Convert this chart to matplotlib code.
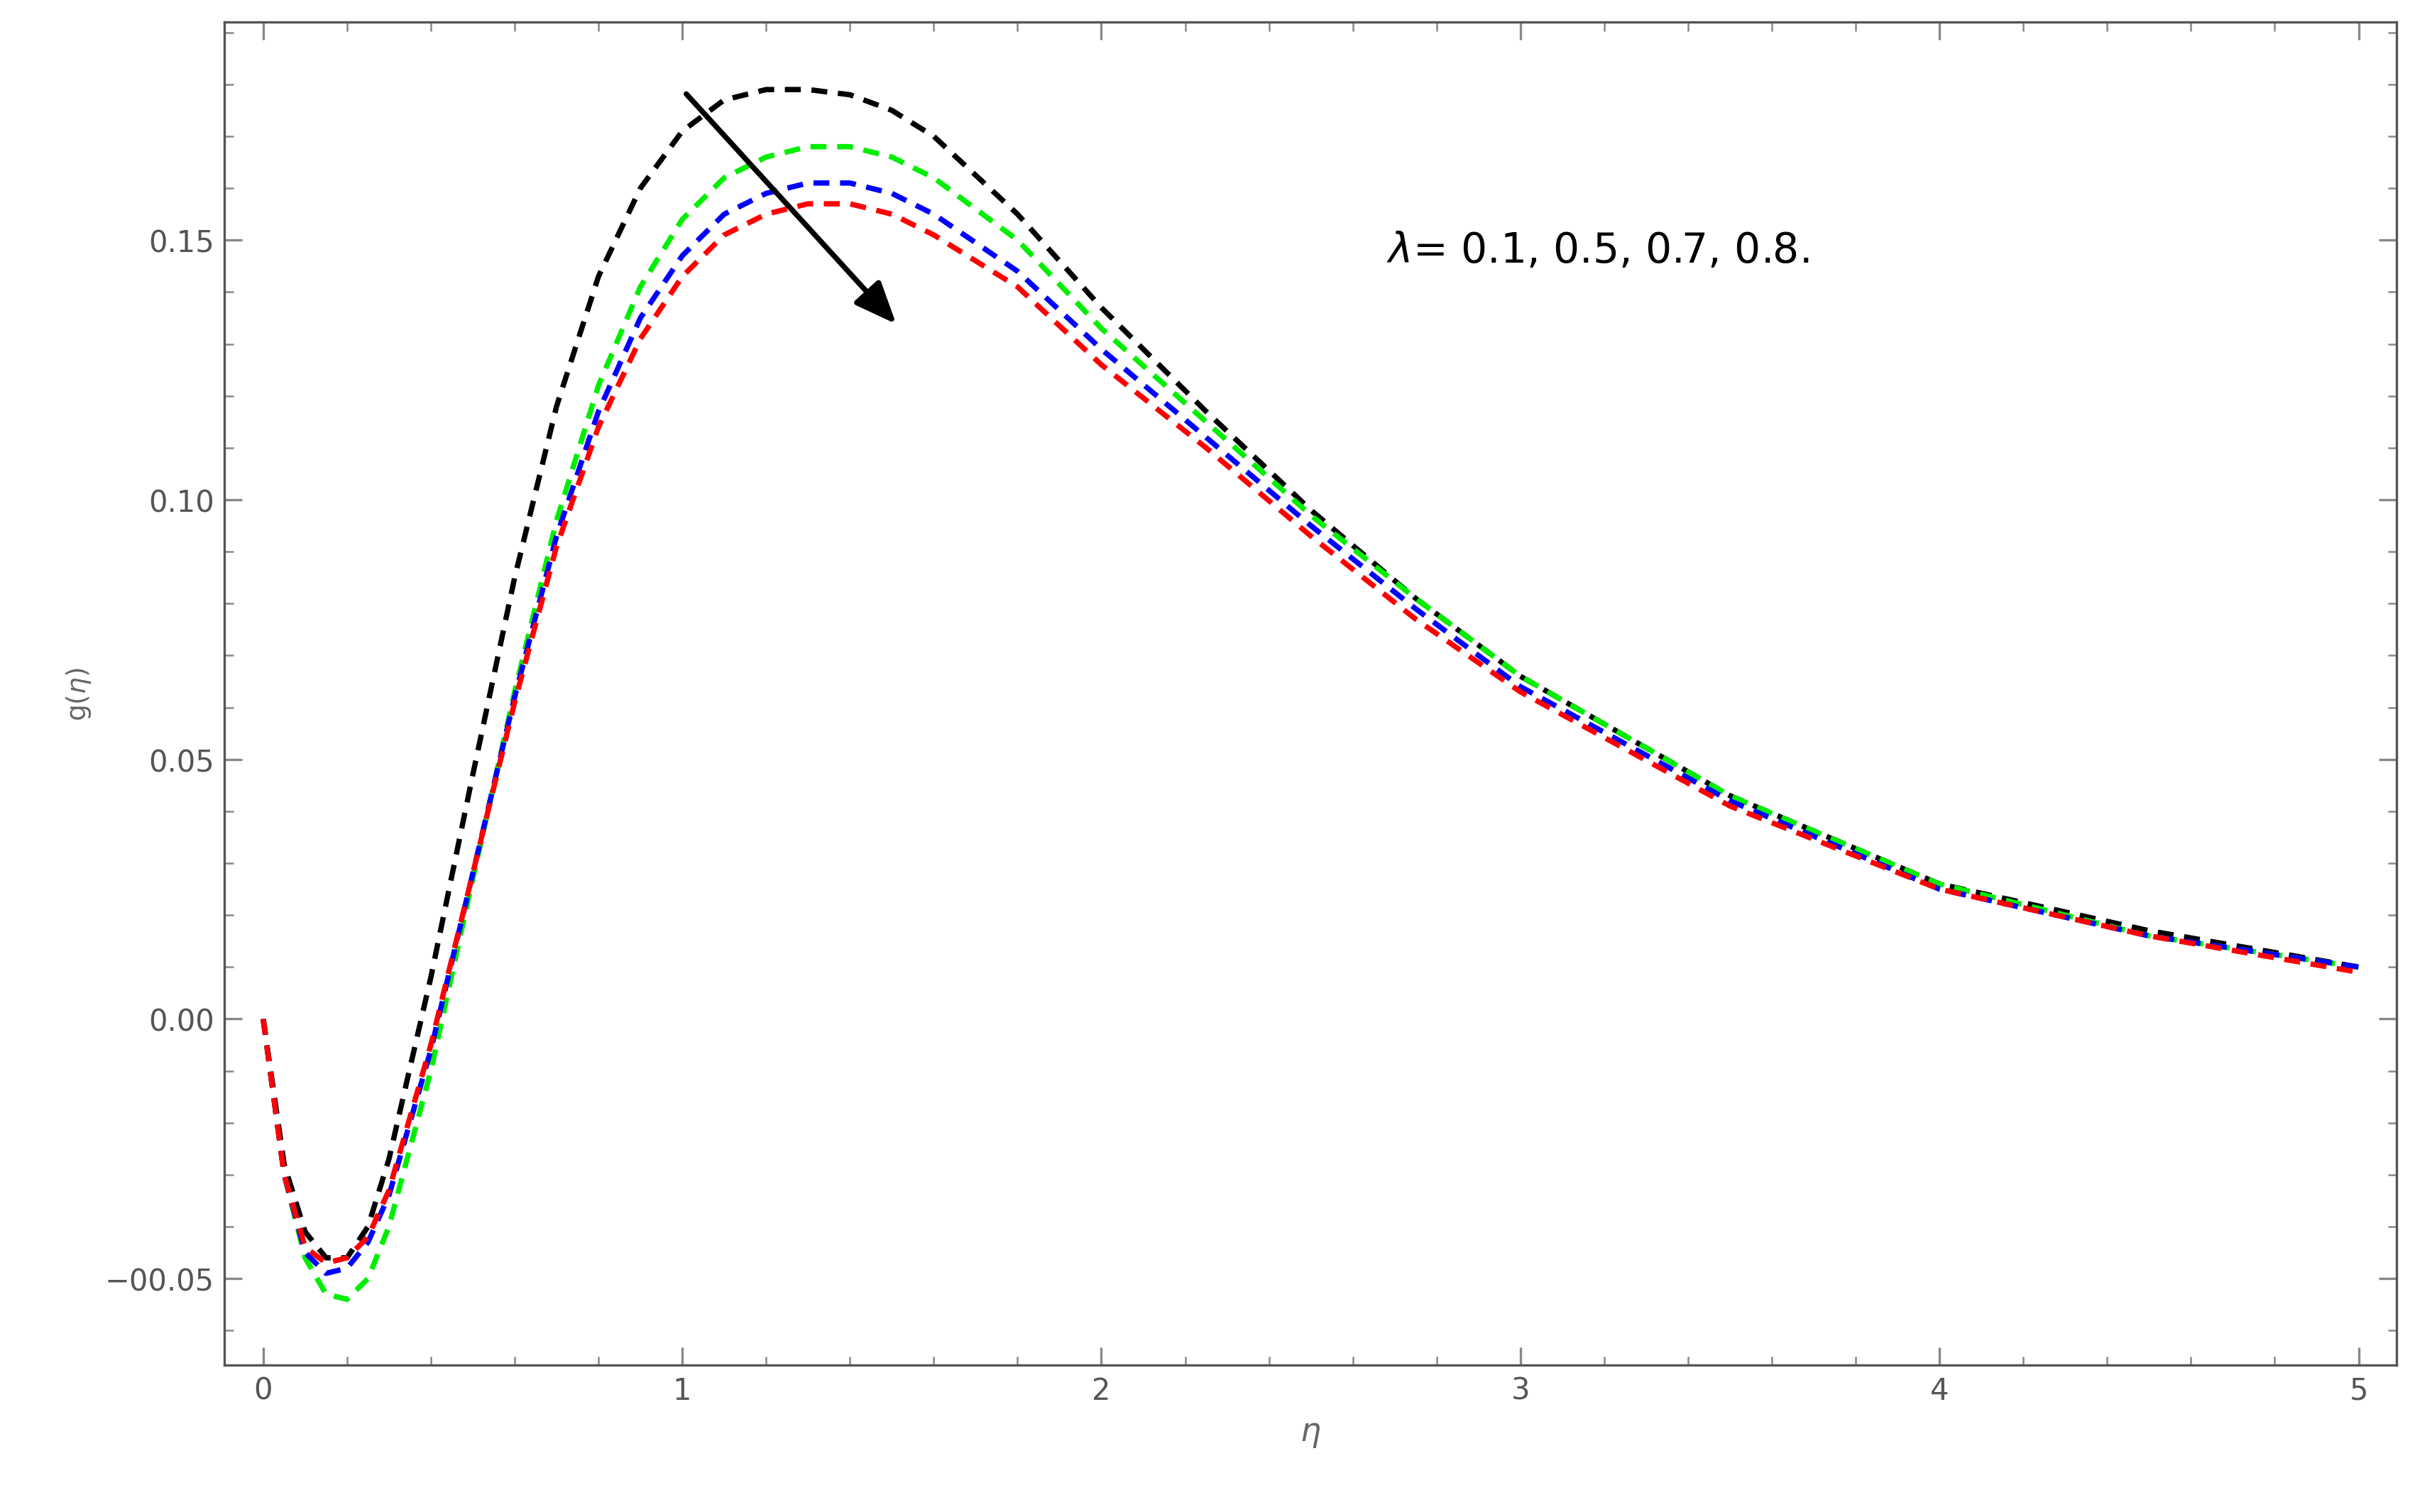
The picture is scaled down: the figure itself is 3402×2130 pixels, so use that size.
import matplotlib.pyplot as plt
from matplotlib.ticker import MultipleLocator

eta = [0, 0.05, 0.1, 0.15, 0.2, 0.25, 0.3, 0.4, 0.5, 0.6, 0.7, 0.8, 0.9, 1.0,
       1.1, 1.2, 1.3, 1.4, 1.5, 1.6, 1.8, 2.0, 2.25, 2.5, 2.75, 3.0, 3.5, 4.0, 4.5, 5.0]

g_01 = [0, -0.028, -0.041, -0.046, -0.046, -0.040, -0.027, 0.008, 0.047, 0.085, 0.118,
        0.143, 0.160, 0.171, 0.177, 0.179, 0.179, 0.178, 0.175, 0.170, 0.155, 0.137,
        0.117, 0.098, 0.081, 0.066, 0.043, 0.026, 0.017, 0.010]
g_05 = [0, -0.030, -0.046, -0.053, -0.054, -0.050, -0.040, -0.010, 0.027, 0.063, 0.096,
        0.122, 0.141, 0.154, 0.162, 0.166, 0.168, 0.168, 0.166, 0.162, 0.150, 0.133,
        0.115, 0.097, 0.081, 0.066, 0.043, 0.026, 0.016, 0.010]
g_07 = [0, -0.030, -0.045, -0.049, -0.048, -0.043, -0.034, -0.006, 0.028, 0.062, 0.093,
        0.117, 0.135, 0.147, 0.155, 0.159, 0.161, 0.161, 0.159, 0.155, 0.144, 0.129,
        0.112, 0.095, 0.079, 0.064, 0.042, 0.025, 0.016, 0.010]
g_08 = [0, -0.030, -0.044, -0.047, -0.046, -0.042, -0.033, -0.005, 0.028, 0.061, 0.091,
        0.114, 0.131, 0.143, 0.151, 0.155, 0.157, 0.157, 0.155, 0.151, 0.141, 0.126,
        0.110, 0.093, 0.077, 0.063, 0.041, 0.025, 0.016, 0.009]

series = [(g_01, "black"), (g_05, "#00ee00"), (g_07, "blue"), (g_08, "red")]

fig = plt.figure(figsize=(11.343, 7.103), dpi=300)
ax = fig.add_axes([0.093, 0.097, 0.899, 0.888])

for ys, c in series:
    ax.plot(eta, ys, color=c, lw=1.8, dashes=(3, 2))

ax.set_xlim(-0.092, 5.09)
ax.set_ylim(-0.0667, 0.192)
ax.xaxis.set_major_locator(MultipleLocator(1))
ax.xaxis.set_minor_locator(MultipleLocator(0.2))
ax.yaxis.set_major_locator(MultipleLocator(0.05))
ax.yaxis.set_minor_locator(MultipleLocator(0.01))
ax.yaxis.set_major_formatter(plt.FuncFormatter(lambda v, p: f"{v:.2f}".replace("-", "\u22120")))
ax.tick_params(which="both", direction="in", top=True, right=True, color="#888888",
               labelcolor="#555555", labelsize=10)
ax.tick_params(which="major", length=6)
ax.tick_params(which="minor", length=3)
for s in ax.spines.values():
    s.set_color("#555555")

ax.set_xlabel(r"$\eta$", color="#666666", fontsize=11)
ax.set_ylabel(r"g($\eta$)", color="#666666", fontsize=9)

ax.annotate("", xy=(1.52, 0.133), xytext=(1.0, 0.179),
            arrowprops=dict(arrowstyle="-|>,head_length=1.2,head_width=0.5", color="black", lw=1.8))
ax.text(2.68, 0.148, r"$\lambda$= 0.1, 0.5, 0.7, 0.8.", fontsize=14, va="center")

fig.savefig("out.png")
